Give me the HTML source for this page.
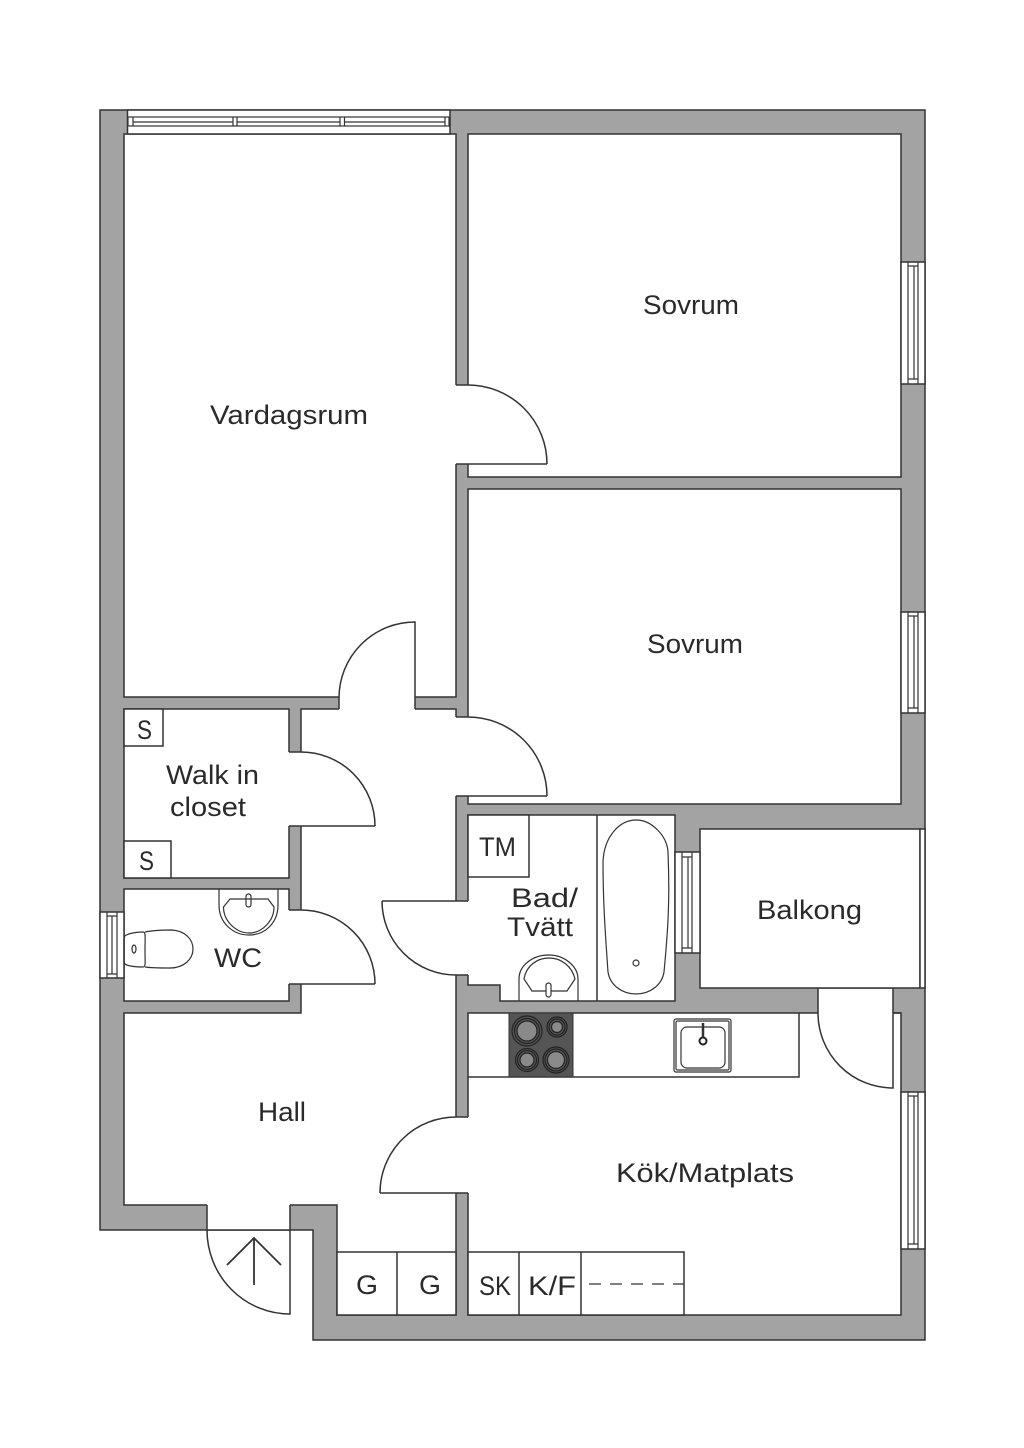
<!DOCTYPE html>
<html><head><meta charset="utf-8"><style>
html,body{margin:0;padding:0;background:#fff;width:1024px;height:1448px;overflow:hidden}
svg{display:block}
text{font-family:"Liberation Sans",sans-serif;font-size:27px;fill:#2a2a2a}
.s{fill:none;stroke:#333;stroke-width:1.5}
.r{fill:#fff;stroke:#333;stroke-width:1.5}
.t{fill:none;stroke:#333;stroke-width:1.2}
.e{fill:#fff;stroke:none}
</style></head><body>
<svg width="1024" height="1448" viewBox="0 0 1024 1448" xmlns="http://www.w3.org/2000/svg">
<rect width="1024" height="1448" fill="#fff"/>
<!-- walls -->
<polygon points="100,110 925,110 925,1340 313,1340 313,1230 100,1230" fill="#a3a3a3" stroke="#333" stroke-width="1.5"/>
<!-- rooms -->
<rect class="r" x="124" y="134" width="332" height="563"/>
<rect class="r" x="468" y="134" width="433" height="343"/>
<rect class="r" x="468" y="489" width="433" height="315"/>
<rect class="r" x="124" y="709" width="165" height="169"/>
<rect class="r" x="124" y="889" width="165" height="112"/>
<polygon class="r" points="301,709 456,709 456,1315 337,1315 337,1205 124,1205 124,1013 301,1013"/>
<polygon class="r" points="468,815 675,815 675,1001 500,1001 500,985 468,985"/>
<rect class="r" x="700" y="829" width="220" height="159"/>
<rect class="r" x="920" y="829" width="5" height="159"/>
<rect class="r" x="468" y="1013" width="433" height="302"/>

<!-- door openings -->
<rect class="e" x="455" y="385" width="14" height="79"/>
<path class="s" d="M456,385H468M456,464H547M468,385A79,79 0 0 1 547,464"/>
<rect class="e" x="455" y="717" width="14" height="79"/>
<path class="s" d="M456,717H468M456,796H547M468,717A79,79 0 0 1 547,796"/>
<rect class="e" x="339" y="696" width="76" height="14"/>
<path class="s" d="M339,697V709M415,709V622A76,76 0 0 0 339,698"/>
<rect class="e" x="288" y="752" width="14" height="74"/>
<path class="s" d="M289,752H301M289,826H375M301,752A74,74 0 0 1 375,826"/>
<rect class="e" x="288" y="910" width="14" height="74"/>
<path class="s" d="M289,910H301M289,984H375M301,910A74,74 0 0 1 375,984"/>
<rect class="e" x="455" y="901" width="14" height="74"/>
<path class="s" d="M382,901H468M456,975H468M382,901A74,74 0 0 0 456,975"/>
<rect class="e" x="455" y="1117" width="14" height="76"/>
<path class="s" d="M456,1117H468M380,1193H468M456,1117A76,76 0 0 0 380,1193"/>
<rect class="e" x="818" y="989" width="75" height="25"/>
<path class="s" d="M818,988V1013A75,75 0 0 0 893,1088V988M893,1013H901"/>
<rect class="e" x="207" y="1204" width="83" height="26"/>
<path class="s" d="M207,1205V1230H290M290,1205V1314A83,84 0 0 1 207,1230"/>
<path d="M254,1285V1238M227,1265L254,1238L281,1265" fill="none" stroke="#333" stroke-width="1.8"/>

<!-- top window -->
<rect class="r" x="127.5" y="110" width="322.5" height="24"/>
<rect class="t" x="128" y="117" width="321" height="9"/>
<path class="t" d="M133,117V126M233,117V126M237,117V126M340,117V126M344.500,117V126M445,117V126M133,122H233M237,122H340M344.500,122H445"/>
<!-- right windows -->
<rect class="r" x="901" y="262" width="24" height="122"/>
<path class="t" d="M908,262V266H918V262M908,384V379H918V384M908,266V379M914,266V379M918,266V379"/>
<rect class="r" x="901" y="612" width="24" height="101"/>
<path class="t" d="M908,612V616H918V612M908,713V708H918V713M908,616V708M914,616V708M918,616V708"/>
<rect class="r" x="901" y="1092" width="24" height="157"/>
<path class="t" d="M908,1092V1096H918V1092M908,1249V1244H918V1249M908,1096V1244M914,1096V1244M918,1096V1244"/>
<!-- bath window -->
<rect class="r" x="675" y="852" width="25" height="101"/>
<path class="t" d="M682,852V857H692V852M682,953V948H692V953M682,857V948M688,857V948M692,857V948"/>
<!-- wc window -->
<rect class="r" x="100" y="912" width="24" height="66"/>
<path class="t" d="M107,912V916H117V912M107,978V974H117V978M107,916V974M112,916V974M117,916V974"/>

<!-- storage -->
<rect class="r" x="124" y="709" width="39" height="37"/>
<rect class="r" x="124" y="841" width="47" height="37"/>
<rect class="r" x="468" y="815" width="61" height="62"/>
<rect class="r" x="337" y="1252" width="119" height="63"/>
<path class="s" d="M397,1252V1315"/>
<rect class="r" x="468" y="1252" width="216" height="63"/>
<path class="s" d="M519,1252V1315M581,1252V1315"/>
<path d="M589,1284H684" stroke="#333" stroke-width="1.3" stroke-dasharray="12 9" fill="none"/>

<!-- wc fixtures -->
<path class="t" d="M219,889V905C219,923 233,935 249,935C265,935 278,923 278,905V889"/>
<path class="t" d="M223.500,907L230,899H268L274,907C274,921 262,933 249,933C236,933 223.500,921 223.500,907Z"/>
<rect class="t" x="246" y="894" width="5" height="13" rx="2.500"/>
<path class="t" d="M143,932C135,932 124,934 124,938V962C124,966 135,967 143,967C146,967 145,963 145,950C145,938 146,932 143,932Z"/>
<path class="t" d="M145,932C155,930 165,930 172,930C186,931 193,940 193,949C193,959 184,968 170,968C160,968 152,968 145,967"/>
<ellipse class="t" cx="134" cy="949" rx="2" ry="4"/>

<!-- bath -->
<path class="s" d="M597,815V1001"/>
<path class="t" d="M603,862C604,836 620,820 636,820C652,820 667,836 668,852C670,900 668,930 664,972C662,985 650,994 636,994C622,994 610,985 608,972C605,930 603,900 603,862Z"/>
<circle class="t" cx="636" cy="963" r="3"/>
<!-- bath sink -->
<path class="t" d="M519,1001V979C519,965 533,955 549,955C564,955 578,966 578,979V1001"/>
<path class="t" d="M524,979C526,966 537,958 549,958C561,958 572,966 575,979L567,991H532Z"/>
<rect class="t" x="546" y="983" width="5" height="14" rx="2.500" fill="#fff" style="fill:#fff"/>

<!-- counter -->
<path class="s" d="M468,1077H799V1013"/>
<rect x="509" y="1013" width="64" height="64" fill="#555" stroke="#333" stroke-width="1"/>
<g stroke="#222" stroke-width="1.200" fill="#8a8a8a">
<circle cx="527" cy="1031" r="15" fill="#555"/><circle cx="527" cy="1031" r="12.500" fill="#555"/><circle cx="527" cy="1031" r="10"/>
<circle cx="557" cy="1027" r="10" fill="#555"/><circle cx="557" cy="1027" r="8" fill="#555"/><circle cx="557" cy="1027" r="5.500"/>
<circle cx="527" cy="1060" r="11.500" fill="#555"/><circle cx="527" cy="1060" r="9.500" fill="#555"/><circle cx="527" cy="1060" r="7"/>
<circle cx="556" cy="1060" r="13" fill="#555"/><circle cx="556" cy="1060" r="11" fill="#555"/><circle cx="556" cy="1060" r="8.500"/>
</g>
<!-- kitchen sink -->
<rect class="t" x="674" y="1019" width="57" height="53" rx="2"/>
<rect class="t" x="676" y="1021" width="53" height="49" rx="1.500"/>
<rect class="t" x="681" y="1027" width="44" height="41" rx="6"/>
<circle cx="703" cy="1041" r="3.500" fill="none" stroke="#222" stroke-width="2"/>
<path d="M703,1023V1037" stroke="#333" stroke-width="2.500" fill="none"/>

<!-- labels -->
<text x="643" y="314" textLength="96" lengthAdjust="spacingAndGlyphs">Sovrum</text>
<text x="647" y="653" textLength="96" lengthAdjust="spacingAndGlyphs">Sovrum</text>
<text x="210" y="424" textLength="158" lengthAdjust="spacingAndGlyphs">Vardagsrum</text>
<text x="166" y="784" textLength="93" lengthAdjust="spacingAndGlyphs">Walk in</text>
<text x="170" y="816" textLength="76" lengthAdjust="spacingAndGlyphs">closet</text>
<text x="214" y="967" textLength="48" lengthAdjust="spacingAndGlyphs">WC</text>
<text x="258" y="1121" textLength="48" lengthAdjust="spacingAndGlyphs">Hall</text>
<text x="616" y="1182" textLength="178" lengthAdjust="spacingAndGlyphs">Kök/Matplats</text>
<text x="757" y="919" textLength="105" lengthAdjust="spacingAndGlyphs">Balkong</text>
<text x="511" y="907" textLength="67" lengthAdjust="spacingAndGlyphs">Bad/</text>
<text x="507" y="936" textLength="66" lengthAdjust="spacingAndGlyphs">Tvätt</text>
<text x="479" y="856" textLength="37" lengthAdjust="spacingAndGlyphs">TM</text>
<text x="137" y="739" textLength="15" lengthAdjust="spacingAndGlyphs">S</text>
<text x="139" y="870" textLength="15" lengthAdjust="spacingAndGlyphs">S</text>
<text x="356" y="1294" textLength="22" lengthAdjust="spacingAndGlyphs">G</text>
<text x="419" y="1294" textLength="22" lengthAdjust="spacingAndGlyphs">G</text>
<text x="479" y="1295" textLength="32" lengthAdjust="spacingAndGlyphs">SK</text>
<text x="528" y="1295" textLength="48" lengthAdjust="spacingAndGlyphs">K/F</text>
</svg>
</body></html>
